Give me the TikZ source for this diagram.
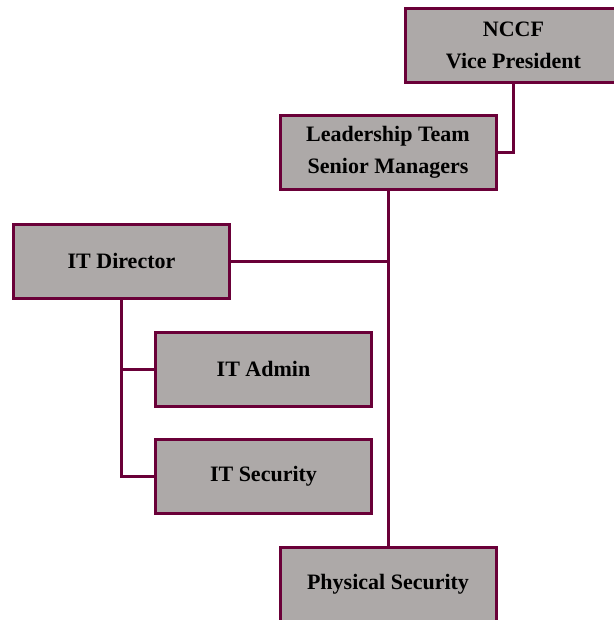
\documentclass[tikz,border=0pt]{standalone}
\usepackage{fontspec}
\setmainfont{Liberation Serif}
\usepackage{xcolor}
\definecolor{maroon}{HTML}{6A0038}
\definecolor{boxgray}{HTML}{ADA9A8}
\tikzset{
  orgbox/.style={draw=maroon,fill=boxgray,line width=3pt,minimum width=216pt,
    minimum height=74pt,align=center,inner sep=2pt,
    font=\fontsize{22}{32}\selectfont\bfseries},
  orgline/.style={draw=maroon,line width=3pt}
}
\begin{document}
\begin{tikzpicture}[x=1pt,y=-1pt]
        \useasboundingbox (0,0) rectangle (613,620);
        % boxes
        \node[orgbox] (nccf) at (513.5,45.5) {NCCF\\Vice President};
        \node[orgbox] (lead) at (388,152.5) {Leadership Team\\Senior Managers};
        \node[orgbox] (itdir) at (121.5,261) {IT Director};
        \node[orgbox] (itadmin) at (263.5,369) {IT Admin};
        \node[orgbox] (itsec) at (263.5,476.5) {IT Security};
        \node[orgbox] (phys) at (388,584.5) {Physical Security};
        % connectors
        \draw[orgline] (nccf.south) |- (lead.east);
        \draw[orgline] (lead.south) -- (phys.north);
        \draw[orgline] (itdir.east) -- (itdir.east -| lead.south);
        \draw[orgline] (itdir.south) |- (itadmin.west);
        \draw[orgline] (itdir.south) |- (itsec.west);
    \end{tikzpicture}
\end{document}
